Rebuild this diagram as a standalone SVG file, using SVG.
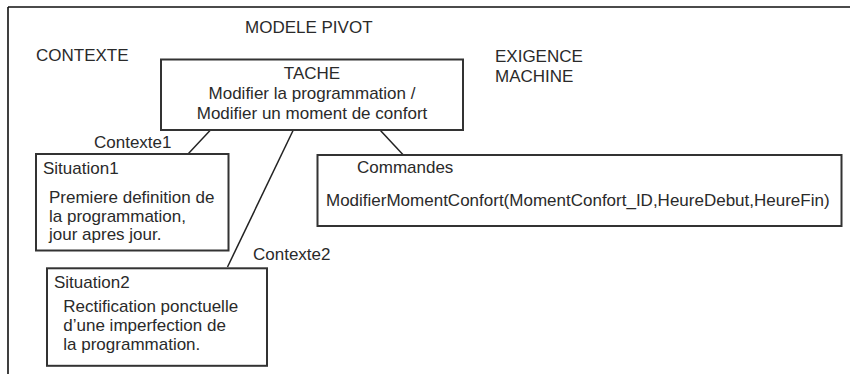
<svg xmlns="http://www.w3.org/2000/svg" width="850" height="374" viewBox="0 0 850 374">
<style>
text{font-family:"Liberation Sans",Arial,sans-serif;font-size:17px;fill:#2a2a2a}
.box{fill:#fff;stroke:#333;stroke-width:2}
.frame{stroke:#111;stroke-width:1.6;fill:none}
.conn{stroke:#222;stroke-width:1.5;fill:none}
.c{text-anchor:middle}
</style>
<rect width="850" height="374" fill="#fff"/>
<g id="frame">
<path class="frame" d="M8,7 H850 M8,7 V374"/>
</g>
<g id="headers">
<text x="245" y="33">MODELE PIVOT</text>
<text x="36" y="61">CONTEXTE</text>
<text x="495" y="62">EXIGENCE</text>
<text x="495" y="82">MACHINE</text>
</g>
<g id="connectors">
<line class="conn" x1="210.5" y1="130" x2="188" y2="154"/>
<line class="conn" x1="293.3" y1="130" x2="227.5" y2="267"/>
<line class="conn" x1="380" y1="130" x2="403.3" y2="155"/>
<text x="94" y="148">Contexte1</text>
<text x="253" y="260">Contexte2</text>
</g>
<g id="tache">
<rect class="box" x="161" y="59.5" width="302" height="70.5"/>
<text class="c" x="312" y="78.5">TACHE</text>
<text class="c" x="312" y="98.5">Modifier la programmation /</text>
<text class="c" x="312" y="118.5">Modifier un moment de confort</text>
</g>
<g id="situation1">
<rect class="box" x="36" y="154" width="192.5" height="96.5"/>
<text x="43" y="174.3">Situation1</text>
<text x="49" y="203.3">Premiere definition de</text>
<text x="49" y="221.7">la programmation,</text>
<text x="49" y="240">jour apres jour.</text>
</g>
<g id="situation2">
<rect class="box" x="47" y="268.3" width="220" height="97.5"/>
<text x="54" y="287.7">Situation2</text>
<text x="63.3" y="311.7">Rectification ponctuelle</text>
<text x="63.3" y="330.7">d’une imperfection de</text>
<text x="63.3" y="350">la programmation.</text>
</g>
<g id="commandes">
<rect class="box" x="317.5" y="155" width="524" height="71"/>
<text x="357" y="173.3">Commandes</text>
<text x="326" y="205.7">ModifierMomentConfort(MomentConfort_ID,HeureDebut,HeureFin)</text>
</g>
</svg>
